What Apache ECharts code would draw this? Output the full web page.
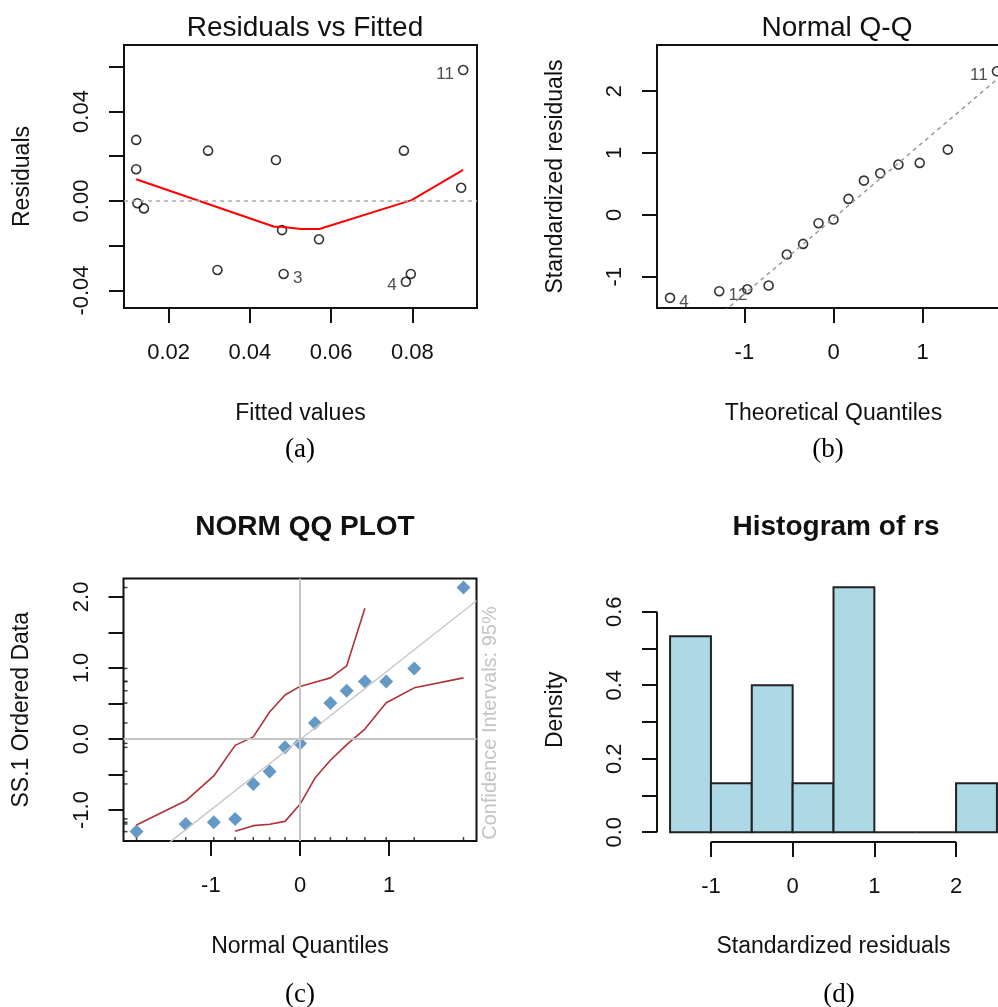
<!DOCTYPE html>
<html>
<head>
<meta charset="utf-8">
<script src="https://cdn.jsdelivr.net/npm/echarts@6/dist/echarts.min.js"></script>
<style>
  html, body { margin: 0; padding: 0; background: #fff; }
  #chart { width: 998px; height: 1007px; }
</style>
</head>
<body>
<div id="chart"></div>
<script>
// ---------- (a) Residuals vs Fitted ----------
const fittedA = [0.0120, 0.0120, 0.0123, 0.0139, 0.0297, 0.0320, 0.0464, 0.0479, 0.0483, 0.0570, 0.0779, 0.0784, 0.0796, 0.0920, 0.0925];
const residA  = [0.0273, 0.0142, -0.0010, -0.0033, 0.0225, -0.0308, 0.0183, -0.0130, -0.0326, -0.0171, 0.0225, -0.0361, -0.0326, 0.0059, 0.0585];
const smoothXA = [0.0120, 0.0460, 0.0477, 0.0526, 0.0571, 0.0798, 0.0925];
const smoothYA = [0.0097, -0.0115, -0.0115, -0.0125, -0.0125, 0.0004, 0.0139];
const idIndexA = [8, 11, 14];
const idTextA  = ['3', '4', '11'];
const xTicksA = [0.02, 0.04, 0.06, 0.08];
const xTickLabelsA = ['0.02', '0.04', '0.06', '0.08'];
const yTicksA = [-0.04, -0.02, 0, 0.02, 0.04, 0.06];
const yLabelValuesA = [-0.04, 0, 0.04];
const yTickLabelsA = ['-0.04', '0.00', '0.04'];

// ---------- (b) Normal Q-Q ----------
const quantB = [-1.834, -1.282, -0.967, -0.728, -0.524, -0.341, -0.168, 0, 0.168, 0.341, 0.524, 0.728, 0.967, 1.282, 1.834];
const stdResB = [-1.341, -1.234, -1.202, -1.142, -0.641, -0.469, -0.135, -0.076, 0.258, 0.554, 0.672, 0.813, 0.840, 1.055, 2.320];
const qqLineB = [[-1.98, -2.479], [1.98, 2.369]];
const idIndexB = [0, 1, 14];
const idTextB  = ['4', '12', '11'];
const xTicksB = [-1, 0, 1, 2];
const xTickLabelsB = ['-1', '0', '1', '2'];
const yTicksB = [-1, 0, 1, 2];
const yTickLabelsB = ['-1', '0', '1', '2'];

// ---------- (c) NORM QQ PLOT ----------
const quantC = [-1.834, -1.282, -0.967, -0.728, -0.524, -0.341, -0.168, 0, 0.168, 0.341, 0.524, 0.728, 0.967, 1.282, 1.834];
const orderedC = [-1.304, -1.196, -1.173, -1.125, -0.633, -0.456, -0.118, -0.062, 0.225, 0.506, 0.679, 0.810, 0.810, 0.993, 2.132];
const ciUpperX = [-1.834, -1.282, -0.967, -0.728, -0.524, -0.341, -0.168, 0, 0.168, 0.341, 0.524, 0.728];
const ciUpperY = [-1.21, -0.87, -0.52, -0.09, 0.03, 0.38, 0.62, 0.74, 0.80, 0.86, 1.03, 1.84];
const ciLowerX = [-0.728, -0.524, -0.341, -0.168, 0, 0.168, 0.341, 0.524, 0.728, 0.967, 1.282, 1.834];
const ciLowerY = [-1.30, -1.22, -1.20, -1.16, -0.92, -0.55, -0.30, -0.08, 0.14, 0.51, 0.72, 0.86];
const refLineC = [[-1.98, -1.966], [1.98, 1.946]];
const xTicksC = [-1, 0, 1];
const xTickLabelsC = ['-1', '0', '1'];
const yTicksC = [-1.0, -0.5, 0, 0.5, 1.0, 1.5, 2.0];
const yLabelValuesC = [-1.0, 0, 1.0, 2.0];
const yTickLabelsC = ['-1.0', '0.0', '1.0', '2.0'];

// ---------- (d) Histogram of rs ----------
const binEdgesD = [-1.5, -1, -0.5, 0, 0.5, 1, 1.5, 2, 2.5];
const densityD  = [0.5333, 0.1333, 0.4, 0.1333, 0.6667, 0, 0, 0.1333];
const xTicksD = [-1, 0, 1, 2];
const xTickLabelsD = ['-1', '0', '1', '2'];
const yTicksD = [0, 0.1, 0.2, 0.3, 0.4, 0.5, 0.6];
const yLabelValuesD = [0, 0.2, 0.4, 0.6];
const yTickLabelsD = ['0.0', '0.2', '0.4', '0.6'];

// ---------- shared styling ----------
const SANS = 'Liberation Sans, Arial, sans-serif';
const SERIF = 'Liberation Serif, Times New Roman, serif';
const INK = '#111';

function labelFor(values, labels) {
  return function (v) {
    const i = values.findIndex(t => Math.abs(t - v) < 1e-9);
    return i >= 0 ? labels[i] : '';
  };
}

function axis(o) {
  const isY = o.dim === 'y';
  return {
    type: 'value',
    gridIndex: o.grid,
    min: o.min,
    max: o.max,
    name: o.name,
    nameLocation: 'middle',
    nameGap: o.nameGap,
    nameRotate: isY ? 90 : 0,
    nameMoveOverlap: false,
    nameTextStyle: { fontFamily: SANS, fontSize: 23, lineHeight: 23, color: INK },
    axisLine: { show: false, onZero: false },
    splitLine: { show: false },
    axisTick: {
      show: true, inside: false, length: 15,
      customValues: o.ticks,
      lineStyle: { color: INK, width: 2 }
    },
    axisLabel: {
      show: true,
      customValues: o.labelValues,
      formatter: labelFor(o.labelValues, o.labels),
      rotate: isY ? 90 : 0,
      margin: isY ? 31 : 34,
      fontFamily: SANS, fontSize: 22, lineHeight: 22, color: INK
    }
  };
}

function idLabels(xs, ys, idx, texts, xmin, xmax) {
  const mid = (xmin + xmax) / 2;
  return xs.map((x, i) => {
    const k = idx.indexOf(i);
    const item = { value: [x, ys[i]] };
    if (k >= 0) {
      item.label = {
        show: true,
        formatter: texts[k],
        position: x < mid ? 'right' : 'left',
        distance: 4,
        offset: [0, 4],
        fontFamily: SANS, fontSize: 17, color: '#222'
      };
    }
    return item;
  });
}

const A = { xmin: 0.0090, xmax: 0.0959, ymin: -0.0478, ymax: 0.0697 };
const B = { xmin: -1.98, xmax: 1.98, ymin: -1.505, ymax: 2.745 };
const C = { xmin: -1.98, xmax: 1.98, ymin: -1.436, ymax: 2.259 };
const D = { xmin: -1.66, xmax: 2.66, ymin: -0.0267, ymax: 0.6933 };

const openCircle = {
  symbol: 'circle', symbolSize: 9,
  itemStyle: { color: 'rgba(0,0,0,0)', borderColor: '#000', borderWidth: 1.6 }
};

const titleStyle = (weight) => ({ fontFamily: SANS, fontSize: 28, lineHeight: 28, fontWeight: weight, color: INK });
const captionStyle = { fontFamily: SERIF, fontSize: 27, lineHeight: 27, fontWeight: 'normal', color: '#000' };

const option = {
  backgroundColor: '#fff',
  animation: false,
  title: [
    { text: 'Residuals vs Fitted', left: 300, top: 9, textAlign: 'center', textStyle: titleStyle('normal') },
    { text: 'Normal Q-Q', left: 832, top: 9, textAlign: 'center', textStyle: titleStyle('normal') },
    { text: 'NORM QQ PLOT', left: 300, top: 508, textAlign: 'center', textStyle: titleStyle('bold') },
    { text: 'Histogram of rs', left: 831, top: 508, textAlign: 'center', textStyle: titleStyle('bold') },
    { text: '(a)', left: 295, top: 431, textAlign: 'center', textStyle: captionStyle },
    { text: '(b)', left: 823, top: 431, textAlign: 'center', textStyle: captionStyle },
    { text: '(c)', left: 295, top: 976, textAlign: 'center', textStyle: captionStyle },
    { text: '(d)', left: 834, top: 976, textAlign: 'center', textStyle: captionStyle }
  ],
  grid: [
    { left: 124, top: 45, width: 353, height: 263, show: true, borderColor: INK, borderWidth: 2, backgroundColor: 'rgba(0,0,0,0)', outerBoundsMode: 'none', containLabel: false },
    { left: 657, top: 45, width: 353, height: 263, show: true, borderColor: INK, borderWidth: 2, backgroundColor: 'rgba(0,0,0,0)', outerBoundsMode: 'none', containLabel: false },
    { left: 123.5, top: 578.5, width: 353, height: 262.5, show: true, borderColor: INK, borderWidth: 2, backgroundColor: 'rgba(0,0,0,0)', outerBoundsMode: 'none', containLabel: false },
    { left: 657, top: 577.5, width: 353, height: 264.5, show: false, outerBoundsMode: 'none', containLabel: false }
  ],
  xAxis: [
    axis({ dim: 'x', grid: 0, min: A.xmin, max: A.xmax, name: 'Fitted values', nameGap: 94, ticks: xTicksA, labelValues: xTicksA, labels: xTickLabelsA }),
    axis({ dim: 'x', grid: 1, min: B.xmin, max: B.xmax, name: 'Theoretical Quantiles', nameGap: 94, ticks: xTicksB, labelValues: xTicksB, labels: xTickLabelsB }),
    axis({ dim: 'x', grid: 2, min: C.xmin, max: C.xmax, name: 'Normal Quantiles', nameGap: 94, ticks: xTicksC, labelValues: xTicksC, labels: xTickLabelsC }),
    axis({ dim: 'x', grid: 3, min: D.xmin, max: D.xmax, name: 'Standardized residuals', nameGap: 93, ticks: xTicksD, labelValues: xTicksD, labels: xTickLabelsD })
  ],
  yAxis: [
    axis({ dim: 'y', grid: 0, min: A.ymin, max: A.ymax, name: 'Residuals', nameGap: 90, ticks: yTicksA, labelValues: yLabelValuesA, labels: yTickLabelsA }),
    axis({ dim: 'y', grid: 1, min: B.ymin, max: B.ymax, name: 'Standardized residuals', nameGap: 90, ticks: yTicksB, labelValues: yTicksB, labels: yTickLabelsB }),
    axis({ dim: 'y', grid: 2, min: C.ymin, max: C.ymax, name: 'SS.1 Ordered Data', nameGap: 90, ticks: yTicksC, labelValues: yLabelValuesC, labels: yTickLabelsC }),
    axis({ dim: 'y', grid: 3, min: D.ymin, max: D.ymax, name: 'Density', nameGap: 90, ticks: yTicksD, labelValues: yLabelValuesD, labels: yTickLabelsD })
  ],
  graphic: [
    {
      type: 'text', x: 490, y: 723, rotation: Math.PI / 2, silent: true,
      style: { text: 'Confidence Intervals: 95%', align: 'center', verticalAlign: 'middle', fontFamily: SANS, fontSize: 20, fill: '#c4c4c4' }
    }
  ],
  series: [
    // (a) zero reference, smoother, residual points
    {
      type: 'line', xAxisIndex: 0, yAxisIndex: 0, silent: true,
      data: smoothXA.map((x, i) => [x, smoothYA[i]]),
      symbol: 'none', lineStyle: { color: '#ff0000', width: 2 },
      markLine: {
        silent: true, symbol: 'none', label: { show: false },
        lineStyle: { color: '#aaaaaa', type: [4, 4], width: 1.5 },
        data: [{ yAxis: 0 }]
      }
    },
    Object.assign({
      type: 'scatter', xAxisIndex: 0, yAxisIndex: 0, silent: true,
      data: idLabels(fittedA, residA, idIndexA, idTextA, A.xmin, A.xmax)
    }, openCircle),

    // (b) Q-Q line and standardized residuals
    {
      type: 'line', xAxisIndex: 1, yAxisIndex: 1, silent: true, clip: true,
      data: qqLineB, symbol: 'none',
      lineStyle: { color: '#999999', type: [4, 4], width: 1.5 }
    },
    Object.assign({
      type: 'scatter', xAxisIndex: 1, yAxisIndex: 1, silent: true,
      data: idLabels(quantB, stdResB, idIndexB, idTextB, B.xmin, B.xmax)
    }, openCircle),

    // (c) reference line, confidence envelope, ordered data, rugs
    {
      type: 'line', xAxisIndex: 2, yAxisIndex: 2, silent: true, clip: true,
      data: refLineC, symbol: 'none',
      lineStyle: { color: '#c8c8c8', width: 1.5 },
      markLine: {
        silent: true, symbol: 'none', label: { show: false },
        lineStyle: { color: '#c4c4c4', type: 'solid', width: 2 },
        data: [{ xAxis: 0 }, { yAxis: 0 }]
      }
    },
    {
      type: 'line', xAxisIndex: 2, yAxisIndex: 2, silent: true,
      data: ciUpperX.map((x, i) => [x, ciUpperY[i]]), symbol: 'none',
      lineStyle: { color: '#b0303a', width: 1.6 }
    },
    {
      type: 'line', xAxisIndex: 2, yAxisIndex: 2, silent: true,
      data: ciLowerX.map((x, i) => [x, ciLowerY[i]]), symbol: 'none',
      lineStyle: { color: '#b0303a', width: 1.6 }
    },
    {
      type: 'scatter', xAxisIndex: 2, yAxisIndex: 2, silent: true, clip: false,
      data: orderedC.map(y => [C.xmin, y]),
      symbol: 'rect', symbolSize: [4, 1.5], symbolOffset: [2, 0],
      itemStyle: { color: '#111' }
    },
    {
      type: 'scatter', xAxisIndex: 2, yAxisIndex: 2, silent: true, clip: false,
      data: quantC.map(x => [x, C.ymin]),
      symbol: 'rect', symbolSize: [1.5, 4], symbolOffset: [0, -2],
      itemStyle: { color: '#111' }
    },
    {
      type: 'scatter', xAxisIndex: 2, yAxisIndex: 2, silent: true,
      data: quantC.map((x, i) => [x, orderedC[i]]),
      symbol: 'diamond', symbolSize: [14, 14],
      itemStyle: { color: '#3f7fb6' }
    },

    // (d) histogram bars and detached axis lines
    {
      type: 'custom', xAxisIndex: 3, yAxisIndex: 3, silent: true,
      data: densityD.map((h, i) => [binEdgesD[i], binEdgesD[i + 1], h]),
      encode: { x: [0, 1], y: 2 },
      renderItem: function (params, api) {
        const p0 = api.coord([api.value(0), 0]);
        const p1 = api.coord([api.value(1), api.value(2)]);
        return {
          type: 'rect',
          shape: { x: p0[0], y: p1[1], width: p1[0] - p0[0], height: p0[1] - p1[1] },
          style: { fill: '#add8e6', stroke: '#222', lineWidth: 2 }
        };
      }
    },
    {
      type: 'line', xAxisIndex: 3, yAxisIndex: 3, silent: true, clip: false,
      data: [[D.xmin, yTicksD[0]], [D.xmin, yTicksD[yTicksD.length - 1]]],
      symbol: 'none', lineStyle: { color: INK, width: 2 }
    },
    {
      type: 'line', xAxisIndex: 3, yAxisIndex: 3, silent: true, clip: false,
      data: [[xTicksD[0], D.ymin], [xTicksD[xTicksD.length - 1], D.ymin]],
      symbol: 'none', lineStyle: { color: INK, width: 2 }
    }
  ]
};

const chart = echarts.init(document.getElementById('chart'), null, { renderer: 'canvas' });
chart.setOption(option);
</script>
</body>
</html>
